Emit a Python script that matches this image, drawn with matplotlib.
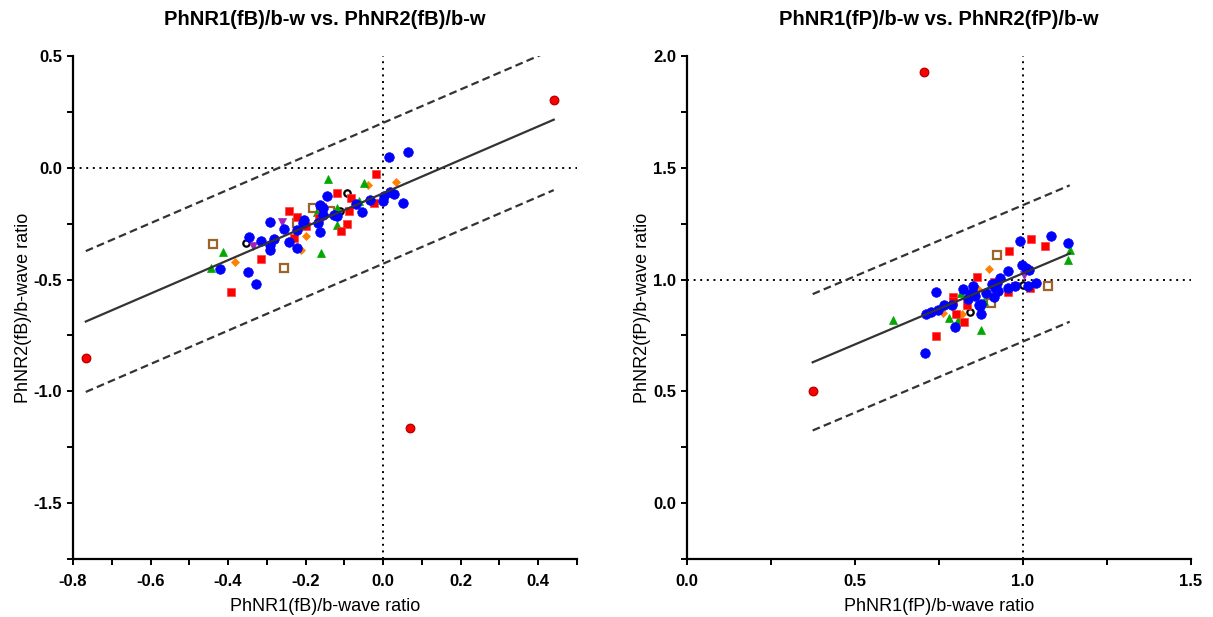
import numpy as np
import matplotlib
matplotlib.use("Agg")
from matplotlib import pyplot as plt
from matplotlib.ticker import MultipleLocator

plt.rcParams["font.family"] = ["Liberation Sans", "DejaVu Sans"]

# ---- left panel: PhNR1(fB)/b-w vs PhNR2(fB)/b-w ----
fb_blue_x = [0.015, 0.064, -0.146, 0.001, 0.018, 0.027, -0.033, -0.071, 0.000, 0.052,
             -0.054, -0.162, -0.156, -0.154, -0.126, -0.118, -0.204, -0.206, -0.167,
             -0.163, -0.221, -0.255, -0.292, -0.281, -0.243, -0.316, -0.346, -0.291,
             -0.292, -0.223, -0.420, -0.348, -0.328]
fb_blue_y = [0.046, 0.070, -0.126, -0.127, -0.108, -0.118, -0.142, -0.160, -0.148, -0.158,
             -0.197, -0.166, -0.181, -0.212, -0.212, -0.215, -0.235, -0.245, -0.248,
             -0.288, -0.278, -0.272, -0.241, -0.317, -0.332, -0.326, -0.308, -0.344,
             -0.366, -0.360, -0.454, -0.466, -0.520]
fb_red_x = [-0.018, -0.118, -0.083, -0.087, -0.023, -0.242, -0.223, -0.200, -0.092,
            -0.108, -0.231, -0.165, -0.157, -0.315, -0.393]
fb_red_y = [-0.028, -0.111, -0.133, -0.194, -0.157, -0.193, -0.220, -0.260, -0.250,
            -0.283, -0.313, -0.226, -0.176, -0.407, -0.557]
fb_green_x = [-0.143, -0.050, -0.062, -0.119, -0.171, -0.118, -0.161, -0.414, -0.444]
fb_green_y = [-0.051, -0.070, -0.149, -0.178, -0.200, -0.257, -0.381, -0.377, -0.447]
fb_orange_x = [0.033, -0.038, -0.200, -0.212, -0.381]
fb_orange_y = [-0.063, -0.076, -0.305, -0.368, -0.420]
fb_brown_x = [-0.440, -0.255, -0.180, -0.136, -0.222]
fb_brown_y = [-0.340, -0.447, -0.178, -0.195, -0.247]
fb_black_x = [-0.092, -0.354, -0.111]
fb_black_y = [-0.111, -0.338, -0.193]
fb_purple_x = [-0.260, -0.335]
fb_purple_y = [-0.241, -0.351]
fb_outlier_x = [-0.767, 0.070, 0.440]
fb_outlier_y = [-0.852, -1.166, 0.305]

fb_slope, fb_intercept, fb_band = 0.748, -0.114, 0.315

# ---- right panel: PhNR1(fP)/b-w vs PhNR2(fP)/b-w ----
fp_blue_x = [1.083, 0.990, 1.134, 0.742, 0.821, 0.852, 0.835, 0.845, 0.855, 0.789,
             0.766, 0.746, 0.725, 0.712, 0.799, 0.873, 0.875, 0.956, 0.933, 0.996,
             1.008, 1.018, 0.908, 0.924, 0.918, 0.889, 0.926, 0.976, 1.014, 1.038,
             0.956, 0.914, 0.875, 0.870, 0.842, 0.858, 0.707]
fp_blue_y = [1.196, 1.173, 1.162, 0.946, 0.958, 0.970, 0.911, 0.929, 0.936, 0.887,
             0.884, 0.865, 0.854, 0.848, 0.786, 0.881, 0.847, 1.037, 1.008, 1.063,
             1.052, 1.043, 0.981, 0.983, 0.963, 0.941, 0.951, 0.969, 0.969, 0.984,
             0.961, 0.921, 0.892, 0.884, 0.936, 0.925, 0.670]
fp_red_x = [0.863, 1.025, 1.064, 0.957, 0.793, 0.793, 0.833, 0.801, 0.825, 0.742,
            1.020, 0.914, 0.955]
fp_red_y = [1.013, 1.180, 1.150, 1.126, 0.921, 0.906, 0.884, 0.844, 0.809, 0.747,
            0.963, 0.988, 0.943]
fp_green_x = [0.614, 0.779, 0.808, 0.875, 0.883, 0.816, 1.139, 1.134]
fp_green_y = [0.820, 0.830, 0.820, 0.775, 0.906, 0.941, 1.133, 1.088]
fp_orange_x = [0.899, 0.762, 0.818, 0.866]
fp_orange_y = [1.048, 0.851, 0.844, 0.958]
fp_brown_x = [0.923, 1.074, 0.905]
fp_brown_y = [1.110, 0.970, 0.897]
fp_black_x = [0.843, 1.000]
fp_black_y = [0.854, 0.976]
fp_purple_x = [1.004, 0.976]
fp_purple_y = [1.019, 0.970]
fp_outlier_x = [0.374, 0.704]
fp_outlier_y = [0.502, 1.929]

fp_slope, fp_intercept, fp_band = 0.636, 0.392, 0.305

LINE_COLOR = "#333333"

STYLES = {
    "brown": dict(marker="s", ms=5.6, mfc="white", mec="#9C6428", mew=1.6),
    "black": dict(marker="o", ms=4.6, mfc="white", mec="black", mew=1.6),
    "purple": dict(marker="v", ms=6.4, mfc="#A020C0", mec="#A020C0", mew=0.5),
    "orange": dict(marker="D", ms=4.0, mfc="#FF8000", mec="#FF8000", mew=0.5),
    "green": dict(marker="^", ms=6.4, mfc="#00A800", mec="#00A800", mew=0.5),
    "red": dict(marker="s", ms=5.8, mfc="#FF0000", mec="#FF4040", mew=0.5),
    "blue": dict(marker="o", ms=6.9, mfc="#0000FF", mec="#0000FF", mew=0.5),
    "outlier": dict(marker="o", ms=6.2, mfc="#FF0000", mec="#B00000", mew=0.9),
}


def draw_panel(ax, series, fit, ref, xlim, ylim, xmajor, xminor, ymajor, yminor,
               title, xlabel, ylabel):
    slope, intercept, band = fit
    ax.axhline(ref, color="black", lw=1.4, ls=(0, (1, 2.4)), zorder=1)
    ax.axvline(ref, color="black", lw=1.4, ls=(0, (1, 2.4)), zorder=1)

    for name, (xs, ys) in series.items():
        ax.plot(xs, ys, ls="none", zorder=3, **STYLES[name])

    all_x = np.concatenate([np.asarray(xs) for xs, _ in series.values()])
    xx = np.linspace(all_x.min(), all_x.max(), 50)
    yy = intercept + slope * xx
    ax.plot(xx, yy, color=LINE_COLOR, lw=1.6, zorder=4)
    for off in (band, -band):
        ax.plot(xx, yy + off, color=LINE_COLOR, lw=1.6, ls=(0, (3.5, 1.9)), zorder=4)

    ax.set_xlim(xlim)
    ax.set_ylim(ylim)
    ax.xaxis.set_major_locator(MultipleLocator(xmajor))
    ax.xaxis.set_minor_locator(MultipleLocator(xminor))
    ax.yaxis.set_major_locator(MultipleLocator(ymajor))
    ax.yaxis.set_minor_locator(MultipleLocator(yminor))
    ax.tick_params(which="both", direction="out", length=4.5, width=1.4, labelsize=12)
    ax.tick_params(axis="x", pad=6)
    ax.xaxis.set_major_formatter(plt.FuncFormatter(lambda v, p: f"{v:.1f}"))
    ax.yaxis.set_major_formatter(plt.FuncFormatter(lambda v, p: f"{v:.1f}"))
    for lab in ax.get_xticklabels() + ax.get_yticklabels():
        lab.set_fontweight("bold")
    ax.spines["top"].set_visible(False)
    ax.spines["right"].set_visible(False)
    ax.spines["left"].set_linewidth(1.6)
    ax.spines["bottom"].set_linewidth(1.6)
    ax.set_title(title, fontsize=14.5, fontweight="bold", pad=22)
    ax.set_xlabel(xlabel, fontsize=13, labelpad=7)
    ax.set_ylabel(ylabel, fontsize=13, labelpad=1)


fig = plt.figure(figsize=(12.13, 6.17), dpi=100)
ax1 = fig.add_axes([73 / 1213, 58 / 617, 504 / 1213, 503 / 617])
ax2 = fig.add_axes([687 / 1213, 58 / 617, 504 / 1213, 503 / 617])

fb_series = {
    "brown": (fb_brown_x, fb_brown_y),
    "black": (fb_black_x, fb_black_y),
    "purple": (fb_purple_x, fb_purple_y),
    "orange": (fb_orange_x, fb_orange_y),
    "green": (fb_green_x, fb_green_y),
    "red": (fb_red_x, fb_red_y),
    "blue": (fb_blue_x, fb_blue_y),
    "outlier": (fb_outlier_x, fb_outlier_y),
}
fp_series = {
    "brown": (fp_brown_x, fp_brown_y),
    "black": (fp_black_x, fp_black_y),
    "purple": (fp_purple_x, fp_purple_y),
    "orange": (fp_orange_x, fp_orange_y),
    "green": (fp_green_x, fp_green_y),
    "red": (fp_red_x, fp_red_y),
    "blue": (fp_blue_x, fp_blue_y),
    "outlier": (fp_outlier_x, fp_outlier_y),
}

draw_panel(ax1, fb_series, (fb_slope, fb_intercept, fb_band), 0.0,
           (-0.8, 0.5), (-1.75, 0.5), 0.2, 0.1, 0.5, 0.25,
           "PhNR1(fB)/b-w vs. PhNR2(fB)/b-w",
           "PhNR1(fB)/b-wave ratio", "PhNR2(fB)/b-wave ratio")
draw_panel(ax2, fp_series, (fp_slope, fp_intercept, fp_band), 1.0,
           (0.0, 1.5), (-0.25, 2.0), 0.5, 0.25, 0.5, 0.25,
           "PhNR1(fP)/b-w vs. PhNR2(fP)/b-w",
           "PhNR1(fP)/b-wave ratio", "PhNR2(fP)/b-wave ratio")

fig.savefig("out.png", dpi=100)
